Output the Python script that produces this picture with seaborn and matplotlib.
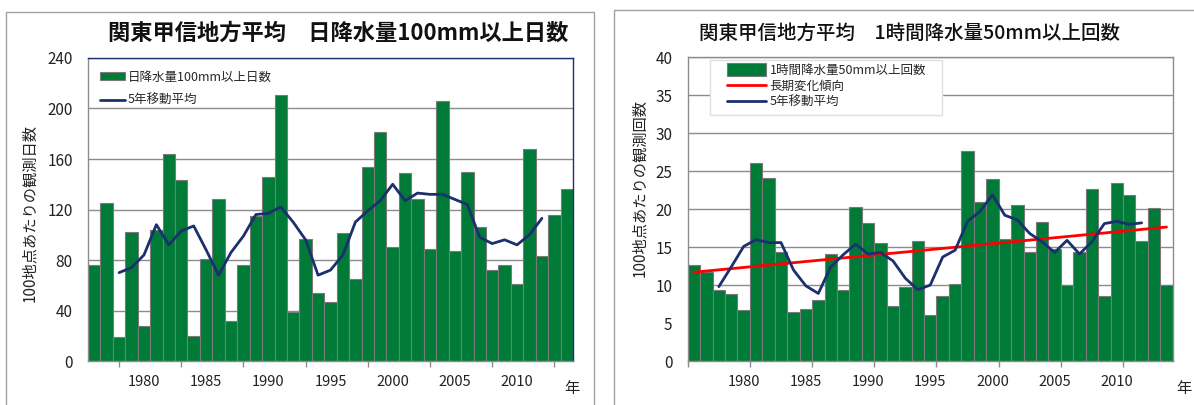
import pandas as pd
import matplotlib
matplotlib.use("Agg")
import matplotlib.pyplot as plt
import seaborn as sns
from matplotlib.patches import Rectangle

# --- data ---
years = list(range(1976, 2015))
ma_years = list(range(1978, 2013))

# left: days with daily precipitation >= 100mm (per 100 stations)
days_100mm = [76, 125, 19, 102, 28, 104, 164, 143, 20, 81,
              128, 32, 76, 115, 146, 211, 39, 97, 54, 47,
              101, 65, 154, 181, 90, 149, 128, 89, 206, 87,
              150, 106, 72, 76, 61, 168, 83, 116, 136]
days_ma5 = [70, 74, 84, 108, 92, 103, 107, 88, 68, 86,
            99, 116, 117, 122, 110, 96, 68, 72, 84, 110,
            119, 127, 140, 127, 133, 132, 132, 128, 124, 98,
            93, 96, 92, 100, 113]

# right: hourly precipitation >= 50mm occurrences (per 100 stations)
hours_50mm = [12.7, 11.7, 9.3, 8.8, 6.7, 26.1, 24.1, 14.3, 6.4, 6.9,
              8.1, 14.1, 9.3, 20.3, 18.2, 15.6, 7.2, 9.8, 15.8, 6.1,
              8.5, 10.1, 27.7, 21.0, 24.0, 16.1, 20.6, 14.3, 18.3, 14.8,
              10.0, 14.3, 22.6, 8.5, 23.5, 21.9, 15.8, 20.2, 10.0]
hours_ma5 = [9.8, 12.4, 15.1, 16.0, 15.6, 15.6, 12.0, 9.9, 8.9, 12.4,
             14.0, 15.4, 14.1, 14.3, 13.2, 10.9, 9.4, 10.0, 13.7, 14.6,
             18.4, 19.7, 21.9, 19.2, 18.6, 16.8, 15.7, 14.3, 15.9, 14.1,
             15.7, 18.1, 18.4, 18.0, 18.2]
trend_years = [1976, 2014]
trend_vals = [11.7, 17.65]

label_years = [1980, 1985, 1990, 1995, 2000, 2005, 2010]

GREEN = "#007A37"
NAVY = "#1C2F6E"
EDGE = "#7A7A7A"
GRID = "#8C8C8C"

sns.set_theme(style="white")
plt.rcParams["font.family"] = ["Noto Sans CJK JP", "DejaVu Sans"]

fig = plt.figure(figsize=(11.94, 4.05), dpi=100)

# panel frames
fig.add_artist(Rectangle((0.005, -0.02), 0.4925, 0.99, transform=fig.transFigure,
                         fill=False, edgecolor="#A0A0A0", lw=1))
fig.add_artist(Rectangle((0.514, -0.02), 0.5, 0.995, transform=fig.transFigure,
                         fill=False, edgecolor="#A0A0A0", lw=1))

ax1 = fig.add_axes([0.0737, 0.1086, 0.4062, 0.7482])
ax2 = fig.add_axes([0.5760, 0.1086, 0.4062, 0.7497])

df1 = pd.DataFrame({"year": years, "val": days_100mm})
df2 = pd.DataFrame({"year": years, "val": hours_50mm})

sns.barplot(data=df1, x="year", y="val", native_scale=True, width=1,
            color=GREEN, saturation=1, edgecolor=EDGE, linewidth=0.8,
            label="日降水量100mm以上日数", ax=ax1)
sns.lineplot(x=ma_years, y=days_ma5, color=NAVY, lw=2, label="5年移動平均", ax=ax1)

sns.barplot(data=df2, x="year", y="val", native_scale=True, width=1,
            color=GREEN, saturation=1, edgecolor=EDGE, linewidth=0.8,
            label="1時間降水量50mm以上回数", ax=ax2)
sns.lineplot(x=trend_years, y=trend_vals, color="#FF0000", lw=2, label="長期変化傾向", ax=ax2)
sns.lineplot(x=ma_years, y=hours_ma5, color=NAVY, lw=2, label="5年移動平均", ax=ax2)

for ax, ymax, ystep, minor in [(ax1, 240, 40, [y + 0.0 for y in range(1978, 2014, 5)]),
                               (ax2, 40, 5, [y - 0.5 for y in range(1976, 2012, 5)])]:
    ax.set_xlim(1975.5, 2014.5)
    ax.set_ylim(0, ymax)
    ax.set_yticks(range(0, ymax + 1, ystep))
    ax.set_xticks(label_years)
    ax.set_xticks(minor, minor=True)
    ax.set_xlabel("")
    ax.set_ylabel("")
    ax.set_axisbelow(True)
    ax.yaxis.grid(True, color=GRID, lw=1)
    ax.tick_params(axis="x", which="major", length=0, pad=10, labelsize=10.5, colors="#222222")
    ax.tick_params(axis="x", which="minor", length=4, width=1, color=GRID, bottom=True)
    ax.tick_params(axis="y", length=0, pad=11, labelsize=11, colors="#222222")
    for s in ax.spines.values():
        s.set_color(GRID)
        s.set_linewidth(1)

ax1.spines["top"].set_color(NAVY)
ax1.spines["right"].set_color(NAVY)

# legends
h, l = ax1.get_legend_handles_labels()
order = [l.index("日降水量100mm以上日数"), l.index("5年移動平均")]
ax1.legend([h[i] for i in order], [l[i] for i in order], loc="upper left",
           bbox_to_anchor=(0.0, 1.0), frameon=False, fontsize=9,
           handlelength=2.0, handleheight=0.6, handletextpad=0.2,
           labelspacing=0.85, borderaxespad=0.6)

# right legend box (drawn separately to get the wide left padding)
ax2.add_patch(Rectangle((0.046, 0.810), 0.478, 0.181, transform=ax2.transAxes,
                        facecolor="white", edgecolor="#E0E0E0", lw=1, zorder=4))
h, l = ax2.get_legend_handles_labels()
order = [l.index("1時間降水量50mm以上回数"), l.index("長期変化傾向"), l.index("5年移動平均")]
leg = ax2.legend([h[i] for i in order], [l[i] for i in order], loc="upper left",
                 bbox_to_anchor=(0.081, 0.98), frameon=False, fontsize=9,
                 handlelength=3.1, handleheight=1.2, handletextpad=0.3,
                 labelspacing=0.2, borderpad=0.0, borderaxespad=0.0)
leg.set_zorder(6)

# titles
fig.text(0.283, 0.918, "関東甲信地方平均　日降水量100mm以上日数", ha="center", va="center",
         fontsize=16, fontweight="bold", color="#111111")
fig.text(0.762, 0.918, "関東甲信地方平均　1時間降水量50mm以上回数", ha="center", va="center",
         fontsize=14, fontweight="medium", color="#111111")

# y labels
fig.text(0.025, 0.475, "100地点あたりの観測日数", rotation=90, ha="center", va="center",
         fontsize=11, color="#222222")
fig.text(0.536, 0.535, "100地点あたりの観測回数", rotation=90, ha="center", va="center",
         fontsize=11, color="#222222")

# x unit labels
fig.text(572 / 1194, 1 - 388 / 405, "年", ha="center", va="center", fontsize=11, color="#222222")
fig.text(1184 / 1194, 1 - 388 / 405, "年", ha="center", va="center", fontsize=11, color="#222222")

fig.savefig("out.png", dpi=100)
